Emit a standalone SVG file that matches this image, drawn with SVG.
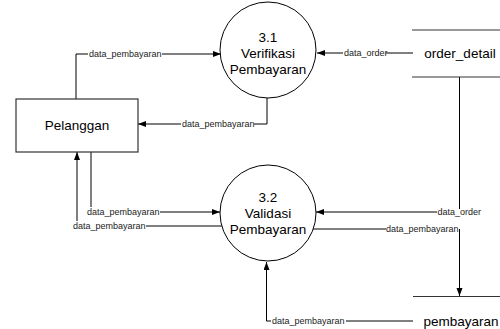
<svg xmlns="http://www.w3.org/2000/svg" width="500" height="329" viewBox="0 0 500 329">
  <defs>
    <marker id="arrow" markerUnits="userSpaceOnUse" markerWidth="9" markerHeight="7" refX="8" refY="3" orient="auto">
      <path d="M0,0 L8,3 L0,6 z" fill="#000"/>
    </marker>
    <style>
      .node { fill: #fff; stroke: #000; stroke-width: 1; }
      .store { stroke: #333; stroke-width: 1.2; fill: none; }
      .title { font-family: "Liberation Sans", Arial, sans-serif; font-size: 13.5px; fill: #000; text-anchor: middle; }
      .flow { fill: none; stroke: #000; stroke-width: 1; }
      .lbl { font-family: "Liberation Sans", Arial, sans-serif; font-size: 9px; fill: #222; }
      .arr { marker-end: url(#arrow); }
    </style>
  </defs>

  <rect width="500" height="329" fill="#fff"/>

  <!-- data flows -->
  <g id="connectors">
    <!-- Pelanggan -> 3.1 -->
    <path class="flow" d="M76,99 V54 H88"/>
    <path class="flow arr" d="M162,54 H221"/>
    <text class="lbl" x="89" y="57">data_pembayaran</text>

    <!-- order_detail -> 3.1 -->
    <path class="flow" d="M413,53 H386"/>
    <path class="flow arr" d="M343,53 H317"/>
    <text class="lbl" x="344" y="56">data_order</text>

    <!-- 3.1 -> Pelanggan -->
    <path class="flow" d="M267,98 V124 H254"/>
    <path class="flow arr" d="M181,124 H138"/>
    <text class="lbl" x="182" y="127">data_pembayaran</text>

    <!-- Pelanggan -> 3.2 -->
    <path class="flow" d="M91,152 V207"/>
    <path class="flow arr" d="M160,212 H220"/>
    <text class="lbl" x="87" y="215">data_pembayaran</text>

    <!-- 3.2 -> Pelanggan -->
    <path class="flow" d="M222,226 H146"/>
    <path class="flow arr" d="M77,221 V152"/>
    <text class="lbl" x="73" y="229">data_pembayaran</text>

    <!-- order_detail -> 3.2 -->
    <path class="flow" d="M459.5,77 V209"/>
    <path class="flow arr" d="M437,212 H316"/>
    <text class="lbl" x="437.5" y="215">data_order</text>

    <!-- 3.2 -> pembayaran -->
    <path class="flow" d="M313,229 H386"/>
    <path class="flow arr" d="M459.5,229 V296"/>
    <text class="lbl" x="386" y="232">data_pembayaran</text>

    <!-- pembayaran -> 3.2 -->
    <path class="flow" d="M413,321 H346"/>
    <path class="flow arr" d="M271,321 H266.5 V262"/>
    <text class="lbl" x="272" y="324">data_pembayaran</text>
  </g>

  <!-- external entity -->
  <g id="pelanggan">
    <rect class="node" x="16" y="99" width="122" height="53" style="stroke:#333;stroke-width:1.2"/>
    <text class="title" x="77" y="130">Pelanggan</text>
  </g>

  <!-- processes -->
  <g id="proses-3-1">
    <circle class="node" cx="268" cy="50" r="48"/>
    <text class="title" x="268" y="42">3.1</text>
    <text class="title" x="268" y="58">Verifikasi</text>
    <text class="title" x="268" y="74">Pembayaran</text>
  </g>

  <g id="proses-3-2">
    <circle class="node" cx="268" cy="213" r="48"/>
    <text class="title" x="268" y="202">3.2</text>
    <text class="title" x="268" y="218">Validasi</text>
    <text class="title" x="268" y="234">Pembayaran</text>
  </g>

  <!-- data stores -->
  <g id="order_detail">
    <path class="store" d="M412,30 H500 M412,77 H500"/>
    <text class="title" x="460" y="58">order_detail</text>
  </g>

  <g id="pembayaran">
    <path class="store" d="M413,296.5 H500"/>
    <text class="title" x="461" y="326">pembayaran</text>
  </g>
</svg>
